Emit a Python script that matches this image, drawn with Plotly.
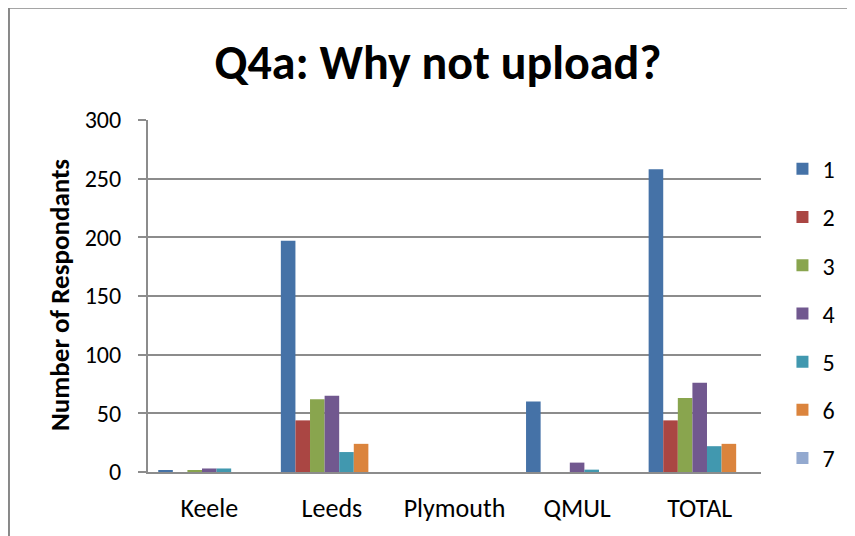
"""
Q4a: Why not upload? -- grouped bar chart per institution.
"""

import plotly.graph_objects as go


# ==========================================================
# Data
# ==========================================================

CATEGORIES = ["Keele", "Leeds", "Plymouth", "QMUL", "TOTAL"]

SERIES_NAMES = ["1", "2", "3", "4", "5", "6", "7"]

REASON_1 = [1, 197, 0, 60, 258]
REASON_2 = [0, 44, 0, 0, 44]
REASON_3 = [1, 62, 0, 0, 63]
REASON_4 = [3, 65, 0, 8, 76]
REASON_5 = [3, 17, 0, 2, 22]
REASON_6 = [0, 24, 0, 0, 24]
REASON_7 = [0, 0, 0, 0, 0]

Y_TICKS = [0, 50, 100, 150, 200, 250, 300]

COLORS = [
    "#4572A7",
    "#AA4643",
    "#89A54E",
    "#71588F",
    "#4198AF",
    "#DB843D",
    "#93A9CF",
]

FONT = "Calibri, Carlito, Lato, sans-serif"
GRID = "#8C8C8C"


# ==========================================================
# Figure
# ==========================================================

fig = go.Figure()

all_series = [
    REASON_1,
    REASON_2,
    REASON_3,
    REASON_4,
    REASON_5,
    REASON_6,
    REASON_7,
]

for name, values, color in zip(SERIES_NAMES, all_series, COLORS):

    fig.add_trace(

        go.Bar(
            x=CATEGORIES,
            y=values,
            name=name,
            legendgroup=name,
            marker=dict(color=color, line=dict(width=0)),
        )

    )


# the page body adds an 8px margin, so the figure is 8px smaller
fig.update_layout(

    width=847,
    height=528,

    paper_bgcolor="white",
    plot_bgcolor="white",

    font=dict(family=FONT, color="black", size=24),

    barmode="group",
    bargap=0.167,
    bargroupgap=0,

    margin=dict(l=140, r=94, t=112, b=62),

    title=dict(
        text="<b>Q4a: Why not upload?</b>",
        x=0.5077,
        xref="container",
        xanchor="center",
        y=0.8977,
        yref="container",
        yanchor="middle",
        font=dict(family=FONT, size=48, color="black"),
    ),

    legend=dict(
        x=1.035,
        xanchor="left",
        y=0.924,
        yanchor="top",
        font=dict(size=24),
        tracegroupgap=14,
        bgcolor="rgba(0,0,0,0)",
    ),

    showlegend=True,
)


fig.update_xaxes(
    showline=True,
    linecolor=GRID,
    linewidth=2,
    ticks="",
    ticklabelstandoff=12,
    showgrid=False,
    tickfont=dict(size=26),
)

fig.update_yaxes(
    range=[0, 300],
    tickvals=Y_TICKS,
    showline=True,
    linecolor=GRID,
    linewidth=2,
    ticks="outside",
    ticklen=8,
    tickwidth=2,
    tickcolor=GRID,
    ticklabelstandoff=12,
    showgrid=True,
    gridcolor=GRID,
    gridwidth=2,
    zeroline=False,
    tickfont=dict(size=24),
)


# y axis title placed as an annotation
fig.add_annotation(
    text="<b>Number of Respondants</b>",
    textangle=-90,
    x=-0.1436,
    xref="paper",
    xanchor="center",
    y=0.503,
    yref="paper",
    yanchor="middle",
    showarrow=False,
    font=dict(family=FONT, size=27, color="black"),
)

# outer chart frame (extends beyond the visible page)
fig.add_shape(
    type="rect",
    xref="paper",
    yref="paper",
    x0=-0.2268,
    x1=2,
    y0=-1,
    y1=1.319,
    line=dict(color="#888888", width=2),
    layer="below",
)


fig.write_html("out.html")
